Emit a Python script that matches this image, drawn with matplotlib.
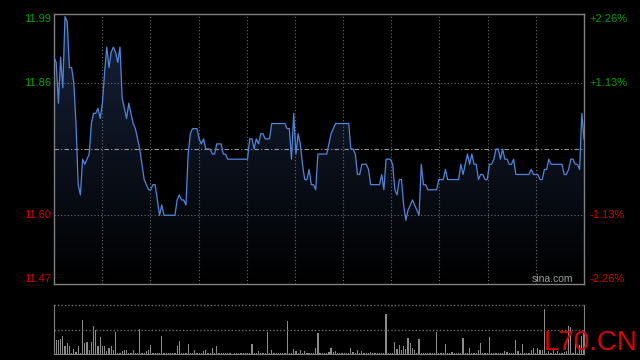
import matplotlib.pyplot as plt
import numpy as np
from matplotlib.colors import LinearSegmentedColormap

plt.rcParams['font.family'] = ['Liberation Sans', 'DejaVu Sans']

prev_close = 11.73
price_labels = ['11.47', '11.60', '11.86', '11.99']
price_levels = [11.47, 11.60, 11.86, 11.99]
pct_labels = ['-2.26%', '-1.13%', '+1.13%', '+2.26%']

# minute prices, 9:30-11:30
am_prices = [
    11.91, 11.90, 11.82, 11.91, 11.85, 11.99, 11.98, 11.89, 11.89, 11.86,
    11.78, 11.66, 11.64, 11.71, 11.70, 11.71, 11.72, 11.78, 11.80, 11.80,
    11.81, 11.79, 11.82, 11.88, 11.93, 11.89, 11.92, 11.93, 11.92, 11.90,
    11.93, 11.83, 11.81, 11.79, 11.82, 11.80, 11.78, 11.77, 11.75, 11.73,
    11.70, 11.67, 11.66, 11.65, 11.65, 11.66, 11.66, 11.63, 11.60, 11.62,
    11.60, 11.60, 11.60, 11.60, 11.60, 11.60, 11.63, 11.64, 11.63, 11.63,
    11.62, 11.72, 11.76, 11.77, 11.77, 11.77, 11.75, 11.74, 11.75, 11.73,
    11.73, 11.73, 11.72, 11.72, 11.74, 11.74, 11.74, 11.72, 11.72, 11.71,
    11.71, 11.71, 11.71, 11.71, 11.71, 11.71, 11.71, 11.71, 11.71, 11.75,
    11.75, 11.73, 11.75, 11.74, 11.76, 11.76, 11.75, 11.75, 11.75, 11.78,
    11.78, 11.78, 11.78, 11.78, 11.78, 11.78, 11.77, 11.77, 11.71, 11.80,
    11.72, 11.76, 11.74, 11.70, 11.67, 11.67, 11.69, 11.66, 11.66, 11.65,
    11.72,
]
# minute prices, 13:00-15:00
pm_prices = [
    11.72, 11.72, 11.72, 11.72, 11.74, 11.76, 11.77, 11.78, 11.78, 11.78,
    11.78, 11.78, 11.78, 11.78, 11.73, 11.73, 11.72, 11.68, 11.68, 11.70,
    11.70, 11.70, 11.69, 11.66, 11.66, 11.66, 11.66, 11.66, 11.68, 11.65,
    11.71, 11.71, 11.71, 11.70, 11.65, 11.64, 11.67, 11.67, 11.62, 11.59,
    11.61, 11.62, 11.63, 11.62, 11.61, 11.60, 11.70, 11.66, 11.66, 11.65,
    11.65, 11.65, 11.65, 11.65, 11.67, 11.67, 11.67, 11.69, 11.67, 11.67,
    11.67, 11.67, 11.67, 11.67, 11.70, 11.68, 11.70, 11.72, 11.70, 11.72,
    11.70, 11.70, 11.67, 11.68, 11.68, 11.67, 11.67, 11.70, 11.70, 11.71,
    11.73, 11.73, 11.71, 11.73, 11.71, 11.71, 11.70, 11.70, 11.71, 11.68,
    11.68, 11.68, 11.68, 11.68, 11.68, 11.68, 11.69, 11.68, 11.68, 11.68,
    11.67, 11.67, 11.69, 11.69, 11.71, 11.70, 11.70, 11.70, 11.70, 11.70,
    11.70, 11.68, 11.68, 11.69, 11.71, 11.71, 11.70, 11.70, 11.69, 11.80,
    11.75,
]
# minute volume (lots)
volume = [
    292, 279, 279, 313, 360, 156, 224, 170, 20, 102,
    34, 170, 22, 700, 224, 238, 75, 238, 578, 496,
    156, 347, 170, 170, 54, 122, 156, 88, 442, 18,
    25, 68, 75, 88, 20, 15, 88, 22, 18, 510,
    20, 15, 54, 75, 190, 14, 21, 12, 25, 360,
    18, 24, 11, 16, 20, 14, 170, 272, 22, 15,
    18, 211, 13, 20, 88, 16, 12, 19, 68, 88,
    14, 22, 122, 17, 170, 20, 12, 15, 24, 13,
    18, 10, 14, 20, 16, 12, 22, 15, 11, 19,
    211, 14, 17, 68, 12, 20, 15, 442, 18, 88,
    13, 16, 21, 12, 18, 14, 666, 20, 15, 109,
    54, 17, 88, 12, 54, 16, 20, 13, 18, 116,
    428,
    20, 14, 18, 12, 48, 122, 48, 68, 16, 20,
    13, 18, 15, 22, 122, 34, 14, 88, 18, 68,
    12, 20, 16, 48, 14, 18, 22, 13, 17, 20,
    823, 15, 20, 18, 238, 102, 190, 75, 170, 102,
    326, 224, 122, 88, 20, 306, 18, 14, 22, 16,
    12, 20, 15, 449, 18, 14, 20, 211, 13, 17,
    34, 15, 20, 12, 18, 326, 14, 20, 122, 16,
    13, 22, 88, 224, 15, 18, 12, 347, 20, 14,
    17, 12, 20, 15, 68, 34, 18, 14, 20, 292,
    54, 16, 211, 12, 20, 15, 88, 122, 18, 122,
    88, 88, 918, 20, 54, 14, 88, 18, 54, 16,
    20, 34, 54, 564, 551, 18, 224, 20, 190, 360,
    428,
]

prices = np.array(am_prices + pm_prices)
minutes = np.arange(len(prices))
span = 0.265
ylo, yhi = prev_close - span, prev_close + span
green, red, grid_c, frame_c = '#00a000', '#d80000', '#6e6e6e', '#808080'

fig = plt.figure(figsize=(6.4, 3.6), dpi=100, facecolor='black')
ax = fig.add_axes([54 / 640, 76 / 360, 530 / 640, 270 / 360], facecolor='black')
vax = fig.add_axes([54 / 640, 6 / 360, 530 / 640, 49 / 360], facecolor='black')

# price panel
ax.set_xlim(0, len(prices) - 1)
ax.set_ylim(ylo, yhi)
grad = np.linspace(1, 0, 256).reshape(-1, 1)
cmap = LinearSegmentedColormap.from_list('fade', ['#000000', '#17233b'])
im = ax.imshow(grad, cmap=cmap, aspect='auto', origin='upper',
               extent=[0, len(prices) - 1, ylo, yhi], zorder=1)
poly = ax.fill_between(minutes, prices, ylo, color='none')
im.set_clip_path(poly.get_paths()[0], transform=ax.transData)

for gx in np.linspace(0, len(prices) - 1, 12)[1:-1]:
    ax.axvline(gx, color=grid_c, lw=0.8, ls=(0, (1, 2)), zorder=2)
for lv in [11.86, 11.60]:
    ax.axhline(lv, color=grid_c, lw=0.8, ls=(0, (1, 2)), zorder=2)
ax.axhline(prev_close, color='#9a9a9a', lw=0.8, ls=(0, (4, 2, 1, 2)), zorder=2)

ax.plot(minutes, prices, color='#4f86dc', lw=0.9, zorder=3)

ax.set_xticks([])
ax.set_yticks([])
for s in ax.spines.values():
    s.set_color(frame_c)
    s.set_linewidth(1)

tr = ax.get_yaxis_transform()
for lv, lab, pct in zip(price_levels, price_labels, pct_labels):
    c = green if lv > prev_close else red
    va = 'center'
    y = lv
    if lv == price_levels[-1]:
        va, y = 'top', yhi
    elif lv == price_levels[0]:
        va, y = 'bottom', ylo
    ax.text(-0.006, y, lab, transform=tr, ha='right', va=va, color=c, fontsize=8)
    ax.text(1.011, y, pct, transform=tr, ha='left', va=va, color=c, fontsize=8)

fig.text(573 / 640, 1 - 279 / 360, 'sina.com', ha='right', va='center',
         color='#a0a0a0', fontsize=7.5)

# volume panel
vax.bar(minutes, volume, width=0.55, color='#8c8c8c', linewidth=0)
vax.set_xlim(0, len(prices) - 1)
vax.set_ylim(0, 1000)
vax.axhline(1000, color=grid_c, lw=1, ls=(0, (1, 1.5)), clip_on=False)
vax.axhline(500, color=grid_c, lw=1, ls=(0, (1, 1.5)))
vax.set_xticks([])
vax.set_yticks([])
vax.spines['top'].set_visible(False)
for k in ['left', 'right', 'bottom']:
    vax.spines[k].set_color(frame_c)

fig.text(544 / 640, 1 - 350 / 360, 'L70.CN', ha='left', va='baseline',
         color='#dd0000', fontsize=20)

fig.savefig('out.png', dpi=100, facecolor='black')
